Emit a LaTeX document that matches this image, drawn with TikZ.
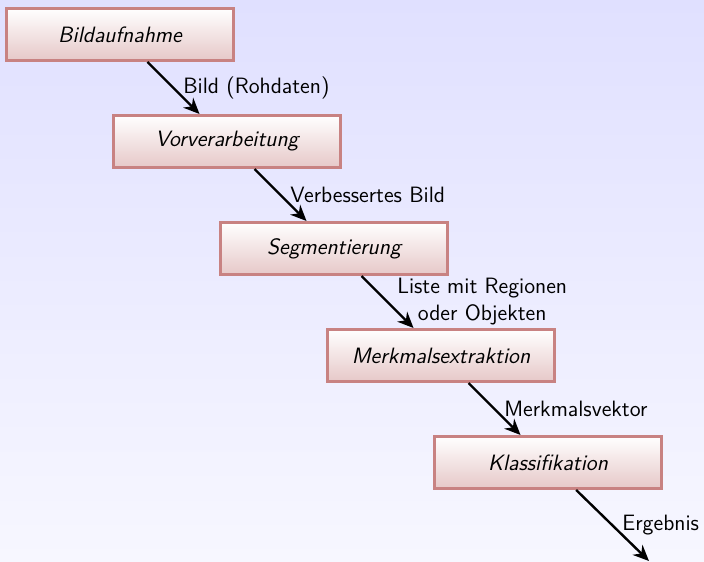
\documentclass[tikz,border=0pt]{standalone}
\usetikzlibrary{arrows.meta}

\definecolor{bgtop}{RGB}{224,224,255}
\definecolor{bgbottom}{RGB}{247,247,255}
\definecolor{boxline}{RGB}{200,130,130}
\definecolor{boxbottom}{RGB}{230,200,200}

\tikzset{
  stepbox/.style={rectangle, draw=boxline, line width=1.5pt, top color=white,
    bottom color=boxbottom, minimum width=113.5pt, minimum height=26pt,
    font=\fontsize{11.1}{13.5}\selectfont\sffamily\itshape},
  flow/.style={very thick, -{Stealth[length=8pt,width=7pt]}},
  flowlabel/.style={font=\fontsize{11.1}{13.5}\selectfont\sffamily, right, inner sep=4.3pt, align=center}
}

\begin{document}
\begin{tikzpicture}[x=0.5pt,y=-0.5pt]
% Background
\shade[top color=bgtop, bottom color=bgbottom] (0,0) rectangle (704,561);
\useasboundingbox (0,0) rectangle (704,561);

% Processing steps
\node[stepbox] (aufnahme) at (120,34.5) {Bildaufnahme};
\node[stepbox] (vorverarb) at (227,141.5) {Vorverarbeitung};
\node[stepbox] (segment) at (334,248.5) {Segmentierung};
\node[stepbox] (merkmal) at (441,355.5) {Merkmalsextraktion};
\node[stepbox] (klass) at (548,462.5) {Klassifikation};
\coordinate (ende) at (649,561);

% Data flow between steps
\draw[flow] (aufnahme) -- (vorverarb) node[flowlabel, midway] {Bild (Rohdaten)};
\draw[flow] (vorverarb) -- (segment) node[flowlabel, midway] {Verbessertes Bild};
\draw[flow] (segment) -- (merkmal) node[flowlabel, midway] {Liste mit Regionen\\oder Objekten};
\draw[flow] (merkmal) -- (klass) node[flowlabel, midway] {Merkmalsvektor};
\draw[flow] (klass) -- (ende) node[flowlabel, midway] {Ergebnis};
\end{tikzpicture}
\end{document}
